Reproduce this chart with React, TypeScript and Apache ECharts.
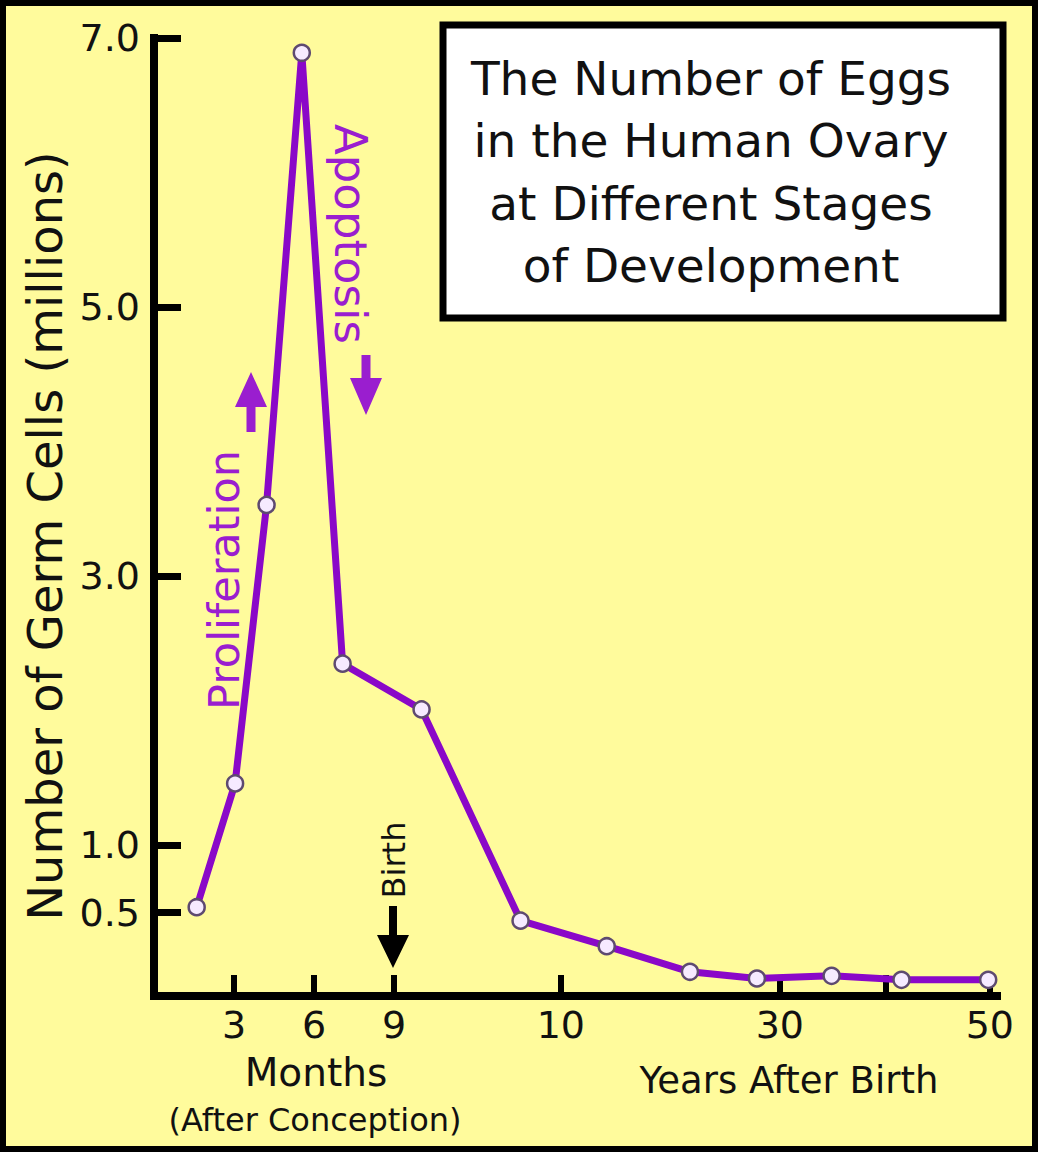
import React, { useEffect, useRef } from "react";
import * as echarts from "echarts";

// Horizontal positions in axis units (month scale; the years part is compressed as in the source)
const xPos = [1.6, 3.04, 4.22, 5.54, 7.07, 10.03, 13.74, 16.97, 20.09, 22.6, 25.4, 28.02, 31.27];
// Number of germ cells (millions)
const germCells = [0.54, 1.46, 3.53, 6.89, 2.35, 2.01, 0.44, 0.25, 0.06, 0.01, 0.03, 0.0, 0.0];

const xTickPos = [3, 6, 9, 15.25, 23.46, 27.44, 31.33];
const xTickLabels = ["3", "6", "9", "10", "30", "", "50"];
const yTickValues = [0.5, 1, 3, 5, 7];

const titleLines = ["The Number of Eggs", "in the Human Ovary", "at Different Stages", "of Development"];

const FONT = "DejaVu Sans";
const PURPLE = "#8A08C8";
const PURPLE_TEXT = "#9A1ECF";

function arrow(cx: number, tip: number, headLen: number, end: number, hh: number, sh: number, color: string) {
  const d = end > tip ? 1 : -1; // direction from tip towards tail
  const hb = tip + d * headLen;
  return {
    type: "polygon",
    z: 50,
    shape: {
      points: [
        [cx, tip],
        [cx + hh, hb],
        [cx + sh, hb],
        [cx + sh, end],
        [cx - sh, end],
        [cx - sh, hb],
        [cx - hh, hb],
      ],
    },
    style: { fill: color },
  };
}

export default function App() {
  const ref = useRef<HTMLDivElement>(null);
  useEffect(() => {
    document.body.style.margin = "0";
    const chart = echarts.init(ref.current!, undefined, { renderer: "svg" });
    const data = xPos.map((x, i) => [x, germCells[i]]);
    const labelPos = xTickPos.filter((_, i) => xTickLabels[i] !== "");
    chart.setOption({
      animation: false,
      backgroundColor: "#FFFB9C",
      grid: { left: 154, top: 38, width: 843, height: 958 },
      xAxis: {
        type: "value",
        min: 0,
        max: 31.6,
        axisLine: { onZero: false, lineStyle: { color: "#000", width: 8, cap: "square" } },
        axisTick: {
          show: true,
          inside: true,
          length: 21,
          customValues: xTickPos,
          lineStyle: { color: "#000", width: 6 },
        },
        axisLabel: {
          customValues: labelPos,
          formatter: (v: number) => {
            let best = 0;
            xTickPos.forEach((p, i) => {
              if (Math.abs(p - v) < Math.abs(xTickPos[best] - v)) best = i;
            });
            return xTickLabels[best];
          },
          fontFamily: FONT,
          fontSize: 38,
          color: "#111",
          margin: 10,
        },
        splitLine: { show: false },
      },
      yAxis: {
        type: "value",
        min: -0.12,
        max: 7,
        axisLine: { show: true, lineStyle: { color: "#000", width: 8, cap: "square" } },
        axisTick: {
          show: true,
          inside: true,
          length: 27,
          customValues: yTickValues,
          lineStyle: { color: "#000", width: 7 },
        },
        axisLabel: {
          customValues: yTickValues,
          formatter: (v: number) => v.toFixed(1),
          fontFamily: FONT,
          fontSize: 38,
          color: "#111",
          margin: 14,
        },
        splitLine: { show: false },
      },
      series: [
        {
          type: "line",
          data,
          lineStyle: { color: PURPLE, width: 7 },
          symbol: "circle",
          symbolSize: 16,
          itemStyle: { color: "#F6EAFF", borderColor: "#5E4A70", borderWidth: 2.5 },
          z: 3,
        },
      ],
      graphic: [
        {
          type: "rect",
          z: 100,
          shape: { x: 3, y: 3, width: 1032, height: 1146 },
          style: { fill: "none", stroke: "#000", lineWidth: 6 },
        },
        {
          type: "rect",
          z: 90,
          shape: { x: 443, y: 25, width: 560, height: 293 },
          style: { fill: "#FFFFFF", stroke: "#000", lineWidth: 7 },
        },
        ...titleLines.map((t, i) => ({
          type: "text",
          z: 95,
          x: 711,
          y: 78 + i * 62.5,
          style: {
            text: t,
            fill: "#111",
            font: `47px "${FONT}"`,
            textAlign: "center",
            textVerticalAlign: "middle",
          },
        })),
        {
          type: "text",
          z: 60,
          x: 45,
          y: 536,
          rotation: Math.PI / 2,
          style: {
            text: "Number of Germ Cells (millions)",
            fill: "#111",
            font: `48px "${FONT}"`,
            textAlign: "center",
            textVerticalAlign: "middle",
          },
        },
        {
          type: "text",
          z: 60,
          x: 316,
          y: 1072,
          style: { text: "Months", fill: "#111", font: `39px "${FONT}"`, textAlign: "center", textVerticalAlign: "middle" },
        },
        {
          type: "text",
          z: 60,
          x: 315,
          y: 1120,
          style: {
            text: "(After Conception)",
            fill: "#111",
            font: `32px "${FONT}"`,
            textAlign: "center",
            textVerticalAlign: "middle",
          },
        },
        {
          type: "text",
          z: 60,
          x: 789,
          y: 1080,
          style: {
            text: "Years After Birth",
            fill: "#111",
            font: `37px "${FONT}"`,
            textAlign: "center",
            textVerticalAlign: "middle",
          },
        },
        {
          type: "text",
          z: 60,
          x: 224,
          y: 580,
          rotation: Math.PI / 2,
          style: {
            text: "Proliferation",
            fill: PURPLE_TEXT,
            font: `43px "${FONT}"`,
            textAlign: "center",
            textVerticalAlign: "middle",
          },
        },
        {
          type: "text",
          z: 60,
          x: 350,
          y: 234,
          rotation: -Math.PI / 2,
          style: {
            text: "Apoptosis",
            fill: PURPLE_TEXT,
            font: `45px "${FONT}"`,
            textAlign: "center",
            textVerticalAlign: "middle",
          },
        },
        {
          type: "text",
          z: 60,
          x: 394,
          y: 860,
          rotation: Math.PI / 2,
          style: {
            text: "Birth",
            fill: "#111",
            font: `32px "${FONT}"`,
            textAlign: "center",
            textVerticalAlign: "middle",
          },
        },
        arrow(251, 372, 35, 432, 16, 4.5, PURPLE_TEXT),
        arrow(366, 415, 37, 355, 16, 4.5, PURPLE_TEXT),
        arrow(393, 968, 33, 906, 16, 4, "#000"),
      ],
    });
    return () => chart.dispose();
  }, []);
  return <div ref={ref} style={{ width: 1038, height: 1152 }} />;
}
